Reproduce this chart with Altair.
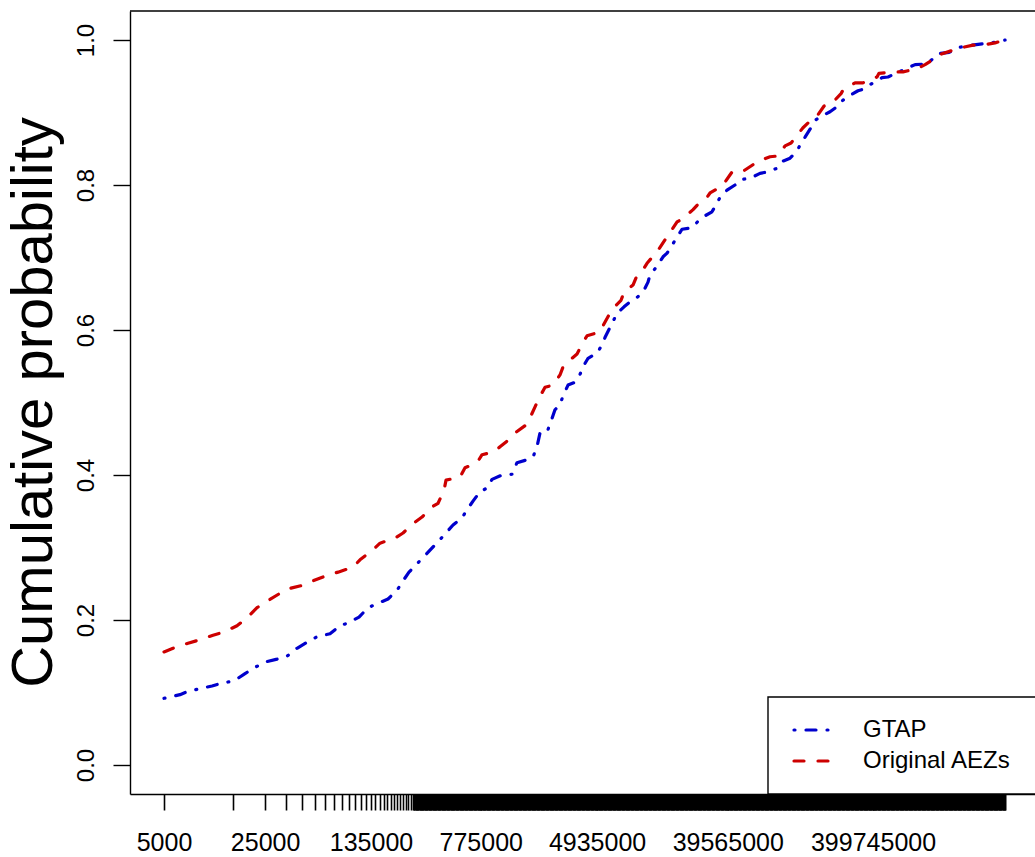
import altair as alt
import pandas as pd

# ---------------- data ----------------
GTAP_X = [5000, 6450, 7210, 8730, 10740, 12590, 15240, 18160, 20960, 24970, 30230, 35460,
          41560, 49520, 57140, 70300, 82450, 93650, 111550, 128700, 151000, 177000, 204400,
          221300, 247200, 285400, 309000, 418300, 498400, 575000, 622800, 685000, 765800,
          856500, 927600, 1087500, 1275000, 1380600, 1618500, 1782000, 1898000, 1991000,
          2225000, 2370000, 2526000, 2736000, 2871000, 3110000, 3478000, 3765000, 4077000,
          4278000, 4936000, 5433000, 5609000, 5978000, 6371000, 6785000, 7585000, 8612000,
          9478000, 10428000, 11112000, 11473000, 12829000, 14120000, 15053000, 19096000,
          22400000, 24636000, 26680000, 30776000, 33331000, 34970000, 39090000, 44385000,
          48080000, 57290000, 66095000, 73900000, 86650000, 95360000, 106650000, 119300000,
          127050000, 135400000, 146650000, 161250000, 171900000, 201550000, 228800000,
          243900000, 272800000, 314700000, 340900000, 399800000, 461200000, 507600000,
          721500000, 781500000, 945500000, 1073500000, 1126500000, 1341500000, 1597500000,
          1786500000, 2577000000, 2790000000, 3273500000]
GTAP_Y = [0.092, 0.097, 0.101, 0.105, 0.109, 0.113, 0.116, 0.126, 0.134, 0.142, 0.146, 0.150,
          0.161, 0.170, 0.177, 0.181, 0.192, 0.196, 0.204, 0.217, 0.223, 0.229, 0.241,
          0.252, 0.266, 0.279, 0.286, 0.314, 0.331, 0.341, 0.352, 0.364, 0.377,
          0.382, 0.394, 0.400, 0.401, 0.417, 0.421, 0.425, 0.439, 0.458,
          0.459, 0.474, 0.490, 0.497, 0.509, 0.524, 0.528, 0.539, 0.554,
          0.561, 0.568, 0.582, 0.590, 0.601, 0.612, 0.623, 0.632, 0.641,
          0.646, 0.655, 0.666, 0.676, 0.688, 0.701, 0.706, 0.739,
          0.741, 0.750, 0.756, 0.763, 0.775, 0.783, 0.793, 0.800,
          0.807, 0.810, 0.816, 0.818, 0.823, 0.833, 0.837, 0.847,
          0.858, 0.866, 0.877, 0.890, 0.894, 0.901, 0.909,
          0.916, 0.923, 0.930, 0.932, 0.941, 0.948, 0.949,
          0.963, 0.966, 0.967, 0.977, 0.981, 0.983, 0.990,
          0.992, 0.996, 0.997, 1.000]

AEZ_X = [5000, 5770, 7330, 8590, 10910, 12790, 15990, 18750, 21990, 25370, 31210, 36020,
         45730, 53640, 68110, 79860, 101400, 113300, 139400, 155800, 197900, 224800,
         267800, 304200, 356800, 392600, 431900, 445700, 557100, 603200, 730500, 791100,
         957500, 1053000, 1255000, 1359000, 1593000, 1698000, 1839000, 1959500, 2156500,
         2448500, 2736500, 2871000, 3313000, 3588500, 3949500, 4210000, 5096000, 5432500,
         5978000, 6370500, 7230000, 7585000, 8750000, 9180000, 10265000, 10940000,
         12425000, 13035000, 17650000, 19405000, 22765000, 24250000, 28440000, 29835000,
         34970000, 37870000, 42360000, 49670000, 59150000, 63050000, 77550000, 88050000,
         98500000, 108400000, 123050000, 131100000, 153700000, 166500000, 183350000,
         208200000, 240150000, 247950000, 300150000, 340950000, 425900000, 439550000,
         558000000, 644500000, 819000000, 915500000, 1073500000, 1126500000, 1430000000,
         1597500000, 1965000000, 2267500000, 2790000000, 3273500000]
AEZ_Y = [0.156, 0.161, 0.168, 0.172, 0.179, 0.183, 0.192, 0.203, 0.217, 0.225, 0.236, 0.243,
         0.248, 0.254, 0.262, 0.266, 0.273, 0.283, 0.297, 0.306, 0.313, 0.320,
         0.334, 0.342, 0.356, 0.361, 0.379, 0.393, 0.397, 0.410, 0.417, 0.428,
         0.432, 0.439, 0.451, 0.459, 0.469, 0.479, 0.494, 0.506, 0.521,
         0.524, 0.538, 0.549, 0.561, 0.567, 0.583, 0.592, 0.597, 0.606,
         0.621, 0.630, 0.641, 0.652, 0.662, 0.672, 0.683, 0.692,
         0.705, 0.710, 0.749, 0.754, 0.766, 0.772, 0.783, 0.789,
         0.797, 0.804, 0.818, 0.818, 0.828, 0.832, 0.839, 0.840,
         0.854, 0.858, 0.872, 0.879, 0.892, 0.897, 0.909,
         0.913, 0.926, 0.931, 0.941, 0.941, 0.949, 0.954,
         0.956, 0.956, 0.961, 0.966, 0.975, 0.979, 0.986,
         0.989, 0.993, 0.993, 0.996, 1.000]

SERIES = ["GTAP", "Original AEZs"]
COLORS = ["#0000CD", "#CD0000"]
DASHES = [[1, 11, 10, 11], [10, 14]]

X_TICK_LABELS = [5000, 25000, 135000, 775000, 4935000, 39565000, 399745000]
Y_TICKS = [0.0, 0.2, 0.4, 0.6, 0.8, 1.0]

# x-axis ticks: one every 10000 starting at 5000; where they merge into a solid
# band (beyond ~265000) they are drawn as a dense run of sub-pixel-spaced ticks
TICK_START, TICK_STEP, TICK_END, BAND_START = 5000, 10000, 3273500000, 265000
tick_set = set(X_TICK_LABELS)
v = TICK_START
while v < BAND_START:
    tick_set.add(v)
    v += TICK_STEP
v = float(v)
while v < TICK_END:
    tick_set.add(round(v))
    v *= 1.009
tick_set.add(TICK_END)
tick_vals = sorted(tick_set)

FONT = "Liberation Sans"
W, H = 905, 783
X_DOMAIN = [2909, 5.27e9]
Y_DOMAIN = [-0.04, 1.04]

xscale = alt.Scale(type="log", domain=X_DOMAIN, nice=False, zero=False)
yscale = alt.Scale(domain=Y_DOMAIN, nice=False, zero=False)

label_list = ",".join(str(v) for v in X_TICK_LABELS)

x_axis = alt.Axis(
    values=tick_vals, grid=False, title=None,
    labelExpr=f"indexof([{label_list}], datum.value) >= 0 ? format(datum.value, 'd') : ''",
    labelOverlap=False, labelFlush=False, labelBound=False,
    labelFont=FONT, labelFontSize=25, labelColor="black",
    labelBaseline="alphabetic", labelPadding=40,
    tickColor="black", tickWidth=1.6, tickSize=16,
    domainColor="black", domainWidth=1.4,
)
y_axis = alt.Axis(
    values=Y_TICKS, grid=False, format=".1f",
    labelFont=FONT, labelFontSize=24, labelColor="black",
    labelAngle=270, labelAlign="center", labelBaseline="alphabetic", labelPadding=20,
    tickColor="black", tickWidth=1.4, tickSize=17,
    domainColor="black", domainWidth=1.4,
    title="Cumulative probability", titleFont=FONT, titleFontSize=58,
    titleFontWeight="normal", titleColor="black", titleAngle=270,
    titleAlign="center", titleBaseline="alphabetic", titleX=-79, titleY=391,
)

rows = []
for name, xs, ys in [(SERIES[0], GTAP_X, GTAP_Y), (SERIES[1], AEZ_X, AEZ_Y)]:
    for xv, yv in zip(xs, ys):
        rows.append({"series": name, "x": xv, "y": yv})
df = pd.DataFrame(rows)

lines = alt.Chart(df).mark_line(
    strokeWidth=3.2, strokeCap="round", strokeJoin="round", clip=True
).encode(
    x=alt.X("x:Q", scale=xscale, axis=x_axis),
    y=alt.Y("y:Q", scale=yscale, axis=y_axis),
    color=alt.Color("series:N", scale=alt.Scale(domain=SERIES, range=COLORS), legend=None),
    strokeDash=alt.StrokeDash("series:N", scale=alt.Scale(domain=SERIES, range=DASHES), legend=None),
)

# top border of the box (right border lies just outside the picture)
top_border = alt.Chart(pd.DataFrame({"a": [0]})).mark_rule(
    color="black", strokeWidth=1.4
).encode(x=alt.value(0), x2=alt.value(W), y=alt.value(0))

# legend box in the bottom-right corner
legend_box = alt.Chart(pd.DataFrame({"a": [0]})).mark_rect(
    fill="white", stroke="black", strokeWidth=1.4
).encode(x=alt.value(638), x2=alt.value(W + 10), y=alt.value(686), y2=alt.value(H))

legend_layers = [legend_box]
for i, name in enumerate(SERIES):
    ly = 719 + 31 * i
    legend_layers.append(
        alt.Chart(pd.DataFrame({"a": [0]})).mark_rule(
            color=COLORS[i], strokeWidth=3.2, strokeDash=DASHES[i], strokeCap="round"
        ).encode(x=alt.value(664), x2=alt.value(700), y=alt.value(ly))
    )
    legend_layers.append(
        alt.Chart(pd.DataFrame({"t": [name]})).mark_text(
            font=FONT, fontSize=24, color="black", align="left", baseline="middle"
        ).encode(x=alt.value(733), y=alt.value(ly), text="t:N")
    )

chart = alt.layer(lines, top_border, *legend_layers).properties(
    width=W, height=H,
    autosize=alt.AutoSizeParams(type="none"),
    padding={"left": 130, "top": 11, "right": 0, "bottom": 63},
    background="white",
).configure_view(stroke=None)

chart.save("out.html", embed_options={"renderer": "svg", "actions": False})
